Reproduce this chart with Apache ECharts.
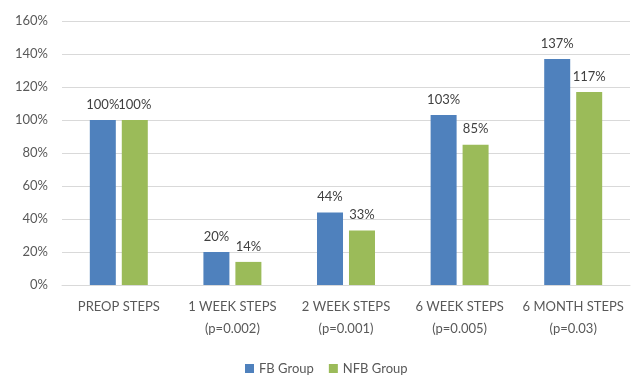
<!DOCTYPE html>
<html><head><meta charset="utf-8">
<script src="https://cdn.jsdelivr.net/npm/echarts@6/dist/echarts.min.js"></script>
<style>html,body{margin:0;padding:0;background:#fff}#c{width:634px;height:377px}</style>
</head><body><div id="c"></div>
<script>
var categories = ['PREOP STEPS', '1 WEEK STEPS\n(p=0.002)', '2 WEEK STEPS\n(p=0.001)', '6 WEEK STEPS\n(p=0.005)', '6 MONTH STEPS\n(p=0.03)'];
var fbValues = [100, 20, 44, 103, 137];
var nfbValues = [100, 14, 33, 85, 117];
var seriesNames = ['FB Group', 'NFB Group'];

var font = 'Lato, "Open Sans", sans-serif';
var chart = echarts.init(document.getElementById('c'));
chart.setOption({
  animation: false,
  textStyle: {fontFamily: font},
  grid: {left: 62, right: 4, top: 21, bottom: 92, containLabel: false},
  legend: {
    data: seriesNames, top: 357, left: 240, itemWidth: 9, itemHeight: 9, itemGap: 15,
    icon: 'rect', textStyle: {color: '#595959', fontSize: 13, fontFamily: font}
  },
  xAxis: {
    type: 'category', data: categories,
    axisLine: {lineStyle: {color: '#d9d9d9'}}, axisTick: {show: false},
    axisLabel: {color: '#595959', fontSize: 13, margin: 11, lineHeight: 22, fontFamily: font, interval: 0}
  },
  yAxis: {
    type: 'value', min: 0, max: 160, interval: 20,
    axisLine: {show: false}, axisTick: {show: false},
    splitLine: {lineStyle: {color: '#d9d9d9'}},
    axisLabel: {formatter: '{value}%', color: '#595959', fontSize: 13, margin: 14, fontFamily: font}
  },
  series: [
    {name: seriesNames[0], type: 'bar', data: fbValues, barWidth: 26, barGap: '23%',
     itemStyle: {color: '#4f81bd'},
     label: {show: true, position: 'top', formatter: '{c}%', color: '#404040', fontSize: 13, distance: 9, fontFamily: font}},
    {name: seriesNames[1], type: 'bar', data: nfbValues, barWidth: 26,
     itemStyle: {color: '#9bbb59'},
     label: {show: true, position: 'top', formatter: '{c}%', color: '#404040', fontSize: 13, distance: 9, fontFamily: font}}
  ]
});
</script></body></html>
